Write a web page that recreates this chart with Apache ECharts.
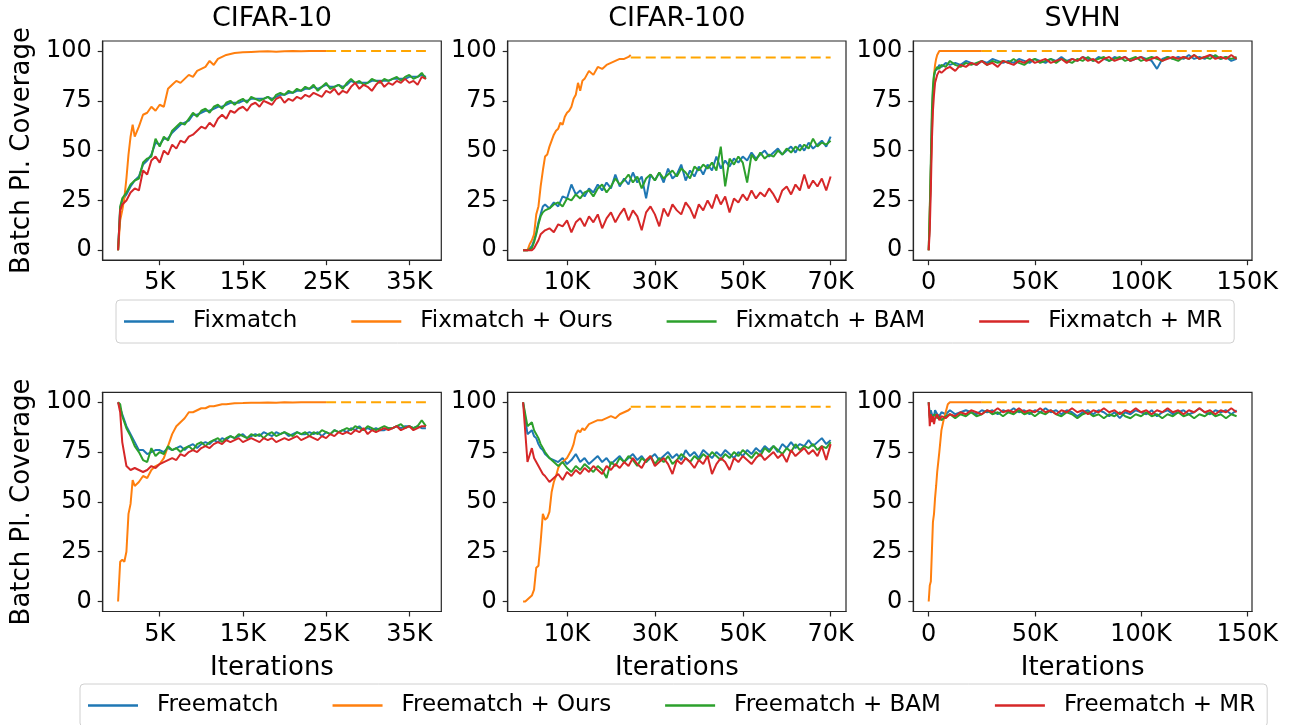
<!DOCTYPE html>
<html>
<head>
<meta charset="utf-8">
<title>Batch PL Coverage</title>
<script src="https://cdn.jsdelivr.net/npm/echarts@6/dist/echarts.min.js"></script>
</head>
<body style="margin:0; background:#fff">
<div id="main" style="width:1292px;height:725px"></div>
<script>
// iterations in thousands (K)
const c10X = [0,0.25,0.5,1,1.5,2,2.5,3,3.5,4,4.5,5,5.5,6,6.5,7,7.5,8,8.5,9,9.5,10,10.5,11,11.5,12,12.5,13,13.5,14,14.5,15,15.5,16,16.5,17,17.5,18,18.5,19,19.5,20,20.5,21,21.5,22,22.5,23,23.5,24,24.5,25,25.5,26,26.5,27,27.5,28,28.5,29,29.5,30,30.5,31,31.5,32,32.5,33,33.5,34,34.5,35,35.5,36,36.5,37];
const c10OursX = [0,0.25,0.5,0.75,1,1.25,1.5,1.75,2,2.5,3,3.5,4,4.5,5,5.5,6,6.5,7,7.5,8,8.5,9,9.5,10,10.5,11,11.5,12,12.5,13,13.5,14,15,16,17,18,19,20,21,22,23,24,25];
const c10DashX = [25, 37];

const c100X = [0,1,2,2.5,3,3.5,4,4.5,5,6,7,8,9,10,11,12,13,14,15,16,17,18,19,20,21,22,23,24,25,26,27,28,29,30,31,32,33,34,35,36,37,38,39,40,41,42,43,44,45,46,47,48,49,50,51,52,53,54,55,56,57,58,59,60,61,62,63,64,65,66,67,68,69,70];
const c100OursX = [0,0.5,1,1.5,2,2.5,3,3.5,4,4.5,5,5.5,6,6.5,7,7.5,8,8.5,9,9.5,10,10.5,11,11.5,12,12.5,13,13.5,14,15,16,17,18,19,20,21,22,23,24,24.5];
const c100DashX = [24.5, 70];

const svhnX = [0,0.5,1,1.5,2,2.5,3,4,5,6,8,10,12.5,15,17.5,20,22.5,25,27.5,30,32.5,35,37.5,40,42.5,45,47.5,50,52.5,55,57.5,60,62.5,65,67.5,70,72.5,75,77.5,80,82.5,85,87.5,90,92.5,95,97.5,100,102.5,105,107.5,110,112.5,115,117.5,120,122.5,125,127.5,130,132.5,135,137.5,140,142.5,145];
const svhnTopOursX = [0,1,2,2.5,3,3.5,4,4.5,5,6,8,10,15,20,25];
const svhnBotOursX = [0,0.5,1,1.5,2,2.5,3,3.5,4,4.5,5,6,7,8,9,10,15,20,25];
const svhnDashX = [25, 145];

// CIFAR-10, Fixmatch row
const c10TopFix  = [0,21,25,28,32,35,37,43,45,48,54,53,56,56,59,61,63,64,65,68,68,69,70,70,71,72,72,73,74,74,74,75,75,76,76,76,76,77,76,77,78,78,79,79,80,80,81,81,82,81,82,83,82,82,83,82,83,85,84,84,84,84,85,85,85,85,85,86,86,86,86,87,87,87,88,87];
const c10TopOurs = [0,15,20,26,36,48,57,63,57,62,68,69,72,70,73,72,81,83,85,84,86,88,87,90,91,92,95,93,96,97,98,98.5,99,99.3,99.5,99.7,99.8,99.6,99.9,100,99.8,100,100,100];
const c10TopBam  = [0,22,26,29,33,35,36,44,46,47,56,52,57,55,60,62,64,63,66,69,67,70,71,69,72,73,71,74,75,73,75,76,74,77,76,75,76,77,75,78,79,78,80,79,81,80,82,81,83,80,82,84,81,82,83,81,84,86,84,85,83,84,86,85,84,86,85,86,87,85,87,88,86,87,89,86];
const c10TopMr   = [0,20,23,25,29,31,30,40,38,45,47,44,50,48,53,51,55,54,57,58,60,62,61,64,62,66,68,66,70,69,71,72,70,73,74,72,75,74,73,76,77,74,76,75,77,76,78,77,79,78,77,80,79,81,78,80,79,82,84,81,83,82,80,83,85,82,84,83,85,84,86,84,85,83,87,86];
const c10TopDash = [100, 100];

// CIFAR-10, Freematch row
const c10BotFree = [100,97,94,88,84,80,76,76,74,75,76,76,75,77,76,77,78,76,78,79,77,79,80,79,81,80,82,81,83,82,83,84,82,83,84,83,85,84,83,85,84,85,83,84,85,84,84,85,84,85,83,85,84,86,85,86,85,87,86,88,86,87,86,87,86,86,87,87,88,87,88,88,87,88,87,87];
const c10BotOurs = [0,20,21,20,25,44,49,61,58,60,63,62,66,68,69,72,78,84,88,90,92,95,95,96,97,97,98,98,98.5,99,99,99.3,99.5,99.6,99.8,99.7,99.9,99.8,100,99.9,100,100,100,100];
const c10BotBam  = [100,99,93,87,83,78,75,71,70,77,73,75,74,78,76,77,75,77,78,76,79,80,78,80,81,82,80,82,83,82,84,83,82,84,83,84,82,84,85,83,84,85,84,83,85,84,85,83,85,84,86,85,84,86,85,86,87,86,88,87,86,88,87,86,87,88,87,87,88,89,87,88,87,88,91,88];
const c10BotMr   = [100,95,80,68,66,67,66,65,66,68,67,69,70,71,72,71,74,73,75,76,75,77,78,77,79,80,79,81,80,81,82,80,81,82,81,80,82,81,82,80,81,82,81,82,83,81,82,83,82,81,83,82,84,83,85,84,85,84,86,85,87,84,86,85,86,87,86,87,88,86,87,88,86,87,88,88];
const c10BotDash = [100, 100];

// CIFAR-100, Fixmatch row
const c100TopFix  = [0,0,2,5,9,14,18,22,23,21,24,22,27,26,33,28,30,27,31,29,33,30,34,31,38,32,36,33,39,34,37,26,38,35,39,34,41,36,38,43,35,40,37,42,38,43,40,47,41,45,42,46,44,47,45,49,46,48,50,47,49,51,48,50,52,49,53,50,54,51,53,55,52,57];
const c100TopOurs = [0,0,0,3,5,8,18,22,32,40,47,48,52,55,58,60,61,64,63,67,69,70,72,76,78,84,80,85,86,90,88,92,91,93,94,95,96,96,97,98];
const c100TopBam  = [0,0,1,4,8,13,17,19,20,21,23,24,22,26,25,28,26,29,30,27,31,33,29,32,36,33,35,38,34,37,31,36,38,35,39,36,38,40,37,41,39,36,42,40,43,41,44,40,52,32,46,43,47,44,34,48,45,49,46,48,47,50,48,51,49,52,50,53,51,56,52,54,53,55];
const c100TopMr   = [0,0,0,1,3,5,8,9,10,11,9,13,12,15,9,14,16,12,17,14,18,11,16,19,14,18,21,15,20,17,10,19,22,18,12,21,17,23,20,18,24,21,16,23,20,25,21,28,23,27,19,26,24,28,25,30,26,29,27,31,28,24,30,32,28,33,30,38,31,35,32,36,30,37];
const c100TopDash = [96.7, 96.7];

// CIFAR-100, Freematch row
const c100BotFree = [100,84,86,83,82,79,77,76,74,72,71,70,72,69,71,74,70,72,69,71,73,70,72,69,71,73,70,72,74,71,73,70,72,74,71,73,75,72,74,71,76,73,75,72,76,74,72,75,73,76,74,72,75,73,76,74,77,75,78,76,78,75,79,77,80,77,79,78,81,78,80,82,79,81];
const c100BotOurs = [0,0,1,2,3,6,17,18,30,44,41,42,45,55,60,63,67,69,70,71,72,74,76,79,84,86,85,87,86,89,90,91,91,92,93,92,94,95,96,97];
const c100BotBam  = [100,88,90,86,84,82,79,77,75,72,70,68,70,67,65,68,66,69,67,65,68,66,62,70,68,72,70,73,71,68,72,70,73,69,72,70,73,69,71,74,72,70,73,71,74,72,75,73,71,74,72,75,73,76,74,72,75,73,77,75,78,76,74,77,75,79,76,78,77,79,76,78,77,80];
const c100BotMr   = [100,70,77,72,70,68,66,64,63,60,62,64,61,65,63,66,64,67,65,68,66,64,68,66,69,67,70,68,72,69,67,71,73,68,70,72,69,64,71,69,72,70,67,71,69,73,64,69,72,70,66,72,70,73,71,69,72,74,71,73,75,72,74,70,76,73,75,77,74,76,73,78,71,79];
const c100BotDash = [97.7, 97.7];

// SVHN, Fixmatch row
const svhnTopFix  = [0,18,40,65,80,87,90,91,93,92,94,93,94,93,95,94,93,95,94,96,95,94,95,94,96,95,94,96,95,94,96,95,97,95,96,95,97,96,95,97,96,95,97,96,97,95,96,97,96,95,91,96,97,96,97,96,98,96,97,96,98,97,96,97,95,96];
const svhnTopOurs = [0,40,78,88,93,96,98,99,100,100,100,100,100,100,100];
const svhnTopBam  = [0,20,45,70,82,88,90,92,91,93,92,95,93,92,94,93,94,95,93,95,94,95,94,96,94,93,95,96,94,95,96,94,96,95,94,96,95,97,95,96,97,95,96,97,95,96,97,95,96,97,96,95,97,96,95,97,96,98,96,97,96,98,96,97,96,97];
const svhnTopMr   = [0,10,30,55,70,78,84,88,90,89,91,92,90,93,92,94,93,95,93,94,92,95,94,93,95,94,96,94,95,96,94,95,96,94,96,95,97,95,96,94,96,97,95,96,97,95,96,97,95,96,97,95,96,97,96,97,96,98,96,97,98,96,97,96,98,96];
const svhnTopDash = [100, 100];

// SVHN, Freematch row
const svhnBotFree = [100,93,96,94,95,93,96,94,93,95,94,96,94,95,96,95,94,96,95,96,94,96,95,97,95,96,94,96,95,97,95,96,94,96,95,93,95,96,94,96,95,93,95,92,95,94,96,95,94,96,93,95,96,94,95,96,94,95,97,95,94,96,95,96,94,96];
const svhnBotOurs = [0,8,10,11,40,44,52,58,65,70,75,86,91,95,99,100,100,100,100];
const svhnBotBam  = [100,92,94,91,93,92,94,92,93,91,93,94,92,94,93,95,93,94,96,94,95,93,95,94,96,94,95,93,95,94,96,94,93,95,94,92,94,95,93,94,92,94,93,95,93,92,94,93,95,93,94,92,94,93,95,93,94,92,94,93,95,93,94,92,94,93];
const svhnBotMr   = [100,88,94,90,93,89,92,94,91,93,92,94,93,95,94,96,95,94,96,95,97,95,96,95,97,95,96,95,97,95,96,94,96,95,97,95,96,94,96,95,97,95,96,94,96,95,97,95,96,94,96,95,97,95,96,94,96,95,97,95,96,94,96,95,97,95];
const svhnBotDash = [100, 100];

const titles = ['CIFAR-10', 'CIFAR-100', 'SVHN'];
const topNames = ['Fixmatch', 'Fixmatch + Ours', 'Fixmatch + BAM', 'Fixmatch + MR'];
const botNames = ['Freematch', 'Freematch + Ours', 'Freematch + BAM', 'Freematch + MR'];
const xTicks = [[5, 15, 25, 35], [10, 30, 50, 70], [0, 50, 100, 150]];
const yTicks = [0, 25, 50, 75, 100];

const colors = ['#1f77b4', '#ff7f0e', '#2ca02c', '#d62728'];
const dashColor = '#ffa500';
const font = 'DejaVu Sans';
const frame = '#262626';

const colLeft = [102.7, 507.7, 913.3];
const colWidth = [338.6, 338.3, 338.7];
const rowTop = [41, 392.3];
const rowHeight = 219.2;
const xRange = [[-1.85, 38.85], [-3.5, 73.5], [-7.25, 152.25]];

const panels = [
  {x: c10X,  ox: c10OursX,  dx: c10DashX,  ys: [c10TopFix, c10TopOurs, c10TopBam, c10TopMr], dash: c10TopDash, names: topNames},
  {x: c100X, ox: c100OursX, dx: c100DashX, ys: [c100TopFix, c100TopOurs, c100TopBam, c100TopMr], dash: c100TopDash, names: topNames},
  {x: svhnX, ox: svhnTopOursX, dx: svhnDashX, ys: [svhnTopFix, svhnTopOurs, svhnTopBam, svhnTopMr], dash: svhnTopDash, names: topNames},
  {x: c10X,  ox: c10OursX,  dx: c10DashX,  ys: [c10BotFree, c10BotOurs, c10BotBam, c10BotMr], dash: c10BotDash, names: botNames},
  {x: c100X, ox: c100OursX, dx: c100DashX, ys: [c100BotFree, c100BotOurs, c100BotBam, c100BotMr], dash: c100BotDash, names: botNames},
  {x: svhnX, ox: svhnBotOursX, dx: svhnDashX, ys: [svhnBotFree, svhnBotOurs, svhnBotBam, svhnBotMr], dash: svhnBotDash, names: botNames}
];

function pairs(xs, ys) {
  const n = Math.min(xs.length, ys.length);
  const out = [];
  for (let i = 0; i < n; i++) out.push([xs[i], ys[i]]);
  return out;
}

const grids = [], xAxes = [], yAxes = [], series = [];
panels.forEach((p, i) => {
  const row = Math.floor(i / 3), col = i % 3;
  grids.push({
    left: colLeft[col], top: rowTop[row], width: colWidth[col], height: rowHeight,
    show: true, borderColor: frame, borderWidth: 1.2, backgroundColor: 'transparent'
  });
  xAxes.push({
    gridIndex: i, type: 'value', min: xRange[col][0], max: xRange[col][1],
    name: row === 1 ? 'Iterations' : '', nameLocation: 'middle', nameGap: 44,
    nameTextStyle: {fontSize: 26, color: '#000', fontFamily: font},
    axisLine: {show: true, onZero: false, lineStyle: {color: frame, width: 1.2}},
    axisTick: {show: true, inside: false, length: 5, customValues: xTicks[col], lineStyle: {color: frame, width: 1.2}},
    axisLabel: {customValues: xTicks[col], fontSize: 24, color: '#000', fontFamily: font, margin: 11,
      formatter: v => v === 0 ? '0' : v + 'K'},
    splitLine: {show: false}
  });
  yAxes.push({
    gridIndex: i, type: 'value', min: -5, max: 105,
    name: col === 0 ? 'Batch Pl. Coverage' : '', nameLocation: 'middle', nameRotate: 90, nameGap: 67,
    nameTextStyle: {fontSize: 26, color: '#000', fontFamily: font},
    axisLine: {show: true, onZero: false, lineStyle: {color: frame, width: 1.2}},
    axisTick: {show: true, inside: false, length: 5, customValues: yTicks, lineStyle: {color: frame, width: 1.2}},
    axisLabel: {customValues: yTicks, fontSize: 24, color: '#000', fontFamily: font, margin: 11},
    splitLine: {show: false}
  });
  p.ys.forEach((ys, k) => {
    const xs = k === 1 ? p.ox : p.x;
    series.push({
      type: 'line', name: p.names[k], xAxisIndex: i, yAxisIndex: i,
      data: pairs(xs, ys), symbol: 'none', showSymbol: false, silent: true,
      color: colors[k], lineStyle: {color: colors[k], width: 2}, z: 2 + k
    });
    if (k === 1) {
      series.push({
        type: 'line', name: p.names[1] + ' (final)', xAxisIndex: i, yAxisIndex: i,
        data: pairs(p.dx, p.dash), symbol: 'none', showSymbol: false, silent: true,
        color: dashColor, lineStyle: {color: dashColor, width: 2, type: [10, 5]}, z: 3
      });
    }
  });
});

const legendBase = {
  orient: 'horizontal', itemGap: 54, itemWidth: 50, itemHeight: 2.5, icon: 'rect',
  padding: [10, 12, 10, 8], borderColor: '#d0d0d0', borderWidth: 1, borderRadius: 4,
  backgroundColor: '#fff', selectedMode: false,
  textStyle: {fontSize: 23, color: '#000', fontFamily: font, padding: [0, 0, 0, 14]}
};

const chart = echarts.init(document.getElementById('main'), null, {renderer: 'canvas'});
chart.setOption({
  animation: false,
  backgroundColor: '#fff',
  textStyle: {fontFamily: font},
  title: titles.map((t, c) => ({
    text: t, left: colLeft[c] + colWidth[c] / 2, top: 5, textAlign: 'center', padding: 0,
    textStyle: {fontSize: 27, fontWeight: 'normal', color: '#000', fontFamily: font}
  })),
  legend: [
    Object.assign({}, legendBase, {data: topNames, left: 116, top: 300}),
    Object.assign({}, legendBase, {data: botNames, left: 80, top: 684})
  ],
  grid: grids,
  xAxis: xAxes,
  yAxis: yAxes,
  series: series
});
</script>
</body>
</html>
